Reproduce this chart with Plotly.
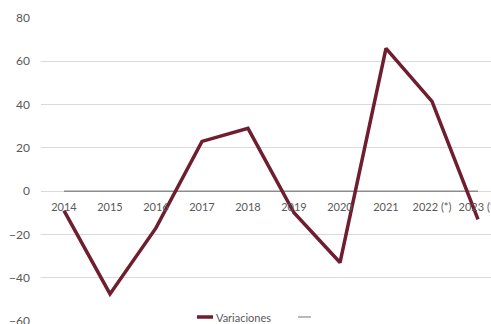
import plotly.graph_objects as go

# Annual variations, with a flat reference series at zero
years = ["2014", "2015", "2016", "2017", "2018", "2019", "2020", "2021", "2022 (*)", "2023 (*)"]
variaciones = [-9, -47.5, -17, 23, 29, -10, -33, 66, 41.5, -13]
baseline = [0, 0, 0, 0, 0, 0, 0, 0, 0, 0]

y_ticks = [-60, -40, -20, 0, 20, 40, 60, 80]

font_family = "Lato, 'Liberation Sans', sans-serif"
label_color = "#595959"
line_color = "#6e1e2f"
base_color = "#8c8c8c"

fig = go.Figure()
fig.add_trace(go.Scatter(
    x=years, y=baseline, mode="lines", name="",
    line=dict(color=base_color, width=1.5),
))
fig.add_trace(go.Scatter(
    x=years, y=variaciones, mode="lines", name="Variaciones",
    line=dict(color=line_color, width=3.5),
))

y_min, y_max = -60, 80
zero_pos = (0 - y_min) / (y_max - y_min)

# plot area geometry in pixels, used to place the legend keys
left, top, plot_w, plot_h = 41, 18, 450, 303


def px_x(p):
    return (p - left) / plot_w


def px_y(p):
    return (top + plot_h - p) / plot_h


legend_y = px_y(317)
shapes = [
    dict(type="line", xref="paper", yref="paper",
         x0=px_x(197), x1=px_x(213), y0=legend_y, y1=legend_y,
         line=dict(color=line_color, width=3.5)),
    dict(type="line", xref="paper", yref="paper",
         x0=px_x(298), x1=px_x(311), y0=legend_y, y1=legend_y,
         line=dict(color=base_color, width=1.2)),
]
annotations = [
    dict(text="Variaciones", xref="paper", yref="paper",
         x=px_x(214), y=legend_y, xanchor="left", yanchor="middle",
         showarrow=False, font=dict(size=11, color=label_color)),
]

fig.update_layout(
    width=491, height=324,
    margin=dict(l=left, r=0, t=top, b=3, autoexpand=False),
    paper_bgcolor="white", plot_bgcolor="white",
    font=dict(family=font_family, color=label_color),
    showlegend=False,
    shapes=shapes, annotations=annotations,
    xaxis=dict(
        type="category", range=[-0.5, -0.5 + plot_w / 46],
        showgrid=False, zeroline=False, showline=False,
        ticks="", anchor="free", position=zero_pos,
        tickfont=dict(size=11, color=label_color),
        ticklabelstandoff=8, automargin=False, ticklabeloverflow="allow",
    ),
    yaxis=dict(
        range=[y_min, y_max], tickvals=y_ticks,
        showgrid=True, gridcolor="#d9d9d9", gridwidth=1,
        zeroline=False, showline=False, ticks="",
        tickfont=dict(size=12, color=label_color),
        ticklabelstandoff=10, ticklabeloverflow="allow", automargin=False,
    ),
)

fig.write_html("out.html")
